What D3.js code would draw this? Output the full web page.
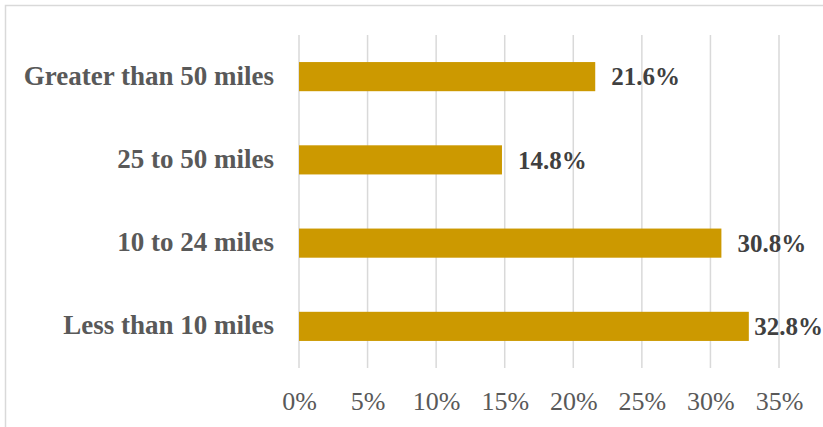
<!DOCTYPE html>
<html><head><meta charset="utf-8">
<script src="https://cdn.jsdelivr.net/npm/d3@7/dist/d3.min.js"></script>
<style>
html,body{margin:0;padding:0;background:#fff;overflow:hidden;}
svg{display:block;}
</style></head>
<body>
<svg id="chart" width="823" height="427"></svg>
<script>
const categories = ["Greater than 50 miles", "25 to 50 miles", "10 to 24 miles", "Less than 10 miles"];
const values = [21.6, 14.8, 30.8, 32.8];
const tickValues = [0, 5, 10, 15, 20, 25, 30, 35];

const svg = d3.select("#chart");
const W = 823, H = 427;
const m = {left: 299, right: 44, top: 35, bottom: 59};

// chart border
svg.append("rect").attr("x", 5.5).attr("y", 5.5).attr("width", 900).attr("height", 900)
  .attr("fill", "#fff").attr("stroke", "#d9d9d9").attr("stroke-width", 1.5);

const x = d3.scaleLinear().domain([0, 35]).range([m.left, W - m.right]);
const y = d3.scaleBand().domain(categories).range([m.top, H - m.bottom]).paddingInner(0.65).paddingOuter(0.325);

// gridlines
svg.append("g").selectAll("line").data(tickValues).join("line")
  .attr("x1", d => x(d)).attr("x2", d => x(d))
  .attr("y1", m.top).attr("y2", H - m.bottom)
  .attr("stroke", "#d9d9d9").attr("stroke-width", 1.5);

// x axis labels
const xAxis = d3.axisBottom(x).tickValues(tickValues).tickFormat(d => d + "%").tickSize(0).tickPadding(0);
const gx = svg.append("g").attr("transform", `translate(0,${H - m.bottom})`).call(xAxis);
gx.select(".domain").remove();
gx.selectAll("text").attr("font-family", "'Liberation Serif', 'Times New Roman', serif")
  .attr("font-size", 26).attr("fill", "#595959").attr("dy", 0).attr("y", 42);

// y axis labels
const yAxis = d3.axisLeft(y).tickSize(0).tickPadding(0);
const gy = svg.append("g").attr("transform", `translate(274,0)`).call(yAxis);
gy.select(".domain").remove();
gy.selectAll("text").attr("font-family", "'Liberation Serif', 'Times New Roman', serif")
  .attr("font-size", 27).attr("font-weight", "bold").attr("fill", "#595959").attr("dy", "0.3em");

// bars
svg.append("g").selectAll("rect").data(categories).join("rect")
  .attr("x", x(0)).attr("y", d => y(d))
  .attr("width", (d, i) => x(values[i]) - x(0)).attr("height", y.bandwidth())
  .attr("fill", "#cc9900");

// value labels
const vl = svg.append("g").selectAll("text").data(categories).join("text")
  .attr("y", d => y(d) + y.bandwidth() / 2)
  .attr("dy", "0.35em")
  .attr("font-family", "'Liberation Serif', 'Times New Roman', serif")
  .attr("font-size", 25).attr("font-weight", "bold").attr("fill", "#404040")
  .text((d, i) => values[i].toFixed(1) + "%");
vl.each(function(d, i) {
  const len = this.getComputedTextLength();
  d3.select(this).attr("x", Math.min(x(values[i]) + 16, W - len));
});
</script>
</body></html>
